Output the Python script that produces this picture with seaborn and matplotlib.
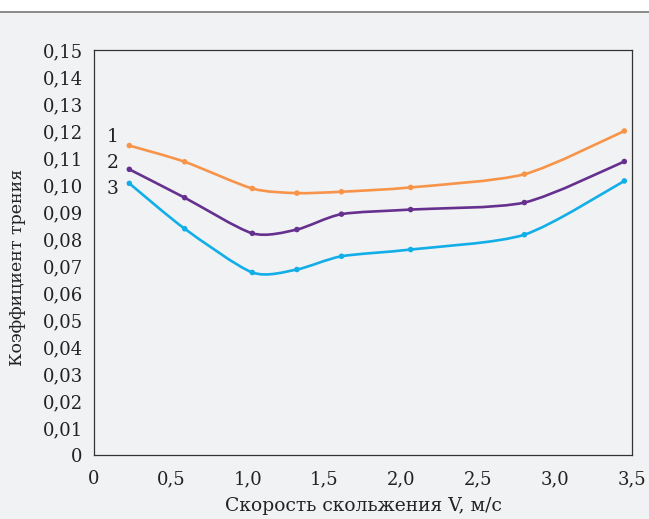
import numpy as np
import pandas as pd
import matplotlib
matplotlib.use("Agg")
import matplotlib.pyplot as plt
from matplotlib.path import Path
from matplotlib.patches import PathPatch
from matplotlib.ticker import FuncFormatter, MultipleLocator
import seaborn as sns

# ---- data ----
speed = [0.23, 0.59, 1.03, 1.32, 1.61, 2.06, 2.80, 3.45]
friction_1 = [0.1146, 0.1086, 0.0987, 0.0970, 0.0975, 0.0991, 0.1040, 0.1200]
friction_2 = [0.1058, 0.0953, 0.0821, 0.0835, 0.0892, 0.0909, 0.0935, 0.1087]
friction_3 = [0.1006, 0.0838, 0.0676, 0.0687, 0.0736, 0.0761, 0.0816, 0.1015]
series_labels = ["1", "2", "3"]
x_label = "Скорость скольжения V, м/с"
y_label = "Коэффициент трения"

colors = ["#f7944a", "#66308f", "#12aee8"]
bg = "#f1f2f4"

sns.set_theme(style="white")
plt.rcParams["font.family"] = ["DejaVu Serif"]

df = pd.concat([
    pd.DataFrame({"V": speed, "mu": vals, "s": lab})
    for vals, lab in zip([friction_1, friction_2, friction_3], series_labels)
])

fig = plt.figure(figsize=(6.49, 5.19), dpi=100, facecolor=bg)
ax = fig.add_axes([0.1448, 0.1233, 0.9738 - 0.1448, 0.9037 - 0.1233])
ax.set_facecolor(bg)

# smooth curves through the points (cardinal spline drawn as cubic Bezier)
def smooth_path(xs, ys, k=1 / 8.0):
    P = np.column_stack([xs, ys])
    n = len(P)
    verts = [P[0]]
    codes = [Path.MOVETO]
    for i in range(n - 1):
        p0 = P[i - 1] if i > 0 else P[i]
        p1 = P[i]
        p2 = P[i + 1]
        p3 = P[i + 2] if i + 2 < n else P[i + 1]
        c1 = p1 + (p2 - p0) * k
        c2 = p2 - (p3 - p1) * k
        verts += [c1, c2, p2]
        codes += [Path.CURVE4] * 3
    return Path(verts, codes)

for vals, c in zip([friction_1, friction_2, friction_3], colors):
    ax.add_patch(PathPatch(smooth_path(speed, vals), facecolor="none",
                           edgecolor=c, lw=1.9, capstyle="round", zorder=2))

sns.scatterplot(data=df, x="V", y="mu", hue="s", palette=colors, s=16,
                edgecolor="none", legend=False, ax=ax, zorder=3)

ax.set_xlim(0, 3.5)
ax.set_ylim(0, 0.15)
ax.xaxis.set_major_locator(MultipleLocator(0.5))
ax.yaxis.set_major_locator(MultipleLocator(0.01))
fmt = lambda d: FuncFormatter(lambda v, p: "0" if abs(v) < 1e-9 else f"{v:.{d}f}".replace(".", ","))
ax.xaxis.set_major_formatter(fmt(1))
ax.yaxis.set_major_formatter(fmt(2))
ax.tick_params(direction="in", length=5, width=0.9, color="#333333",
               labelsize=13, labelcolor="#222222")
ax.tick_params(axis="y", pad=8)
ax.tick_params(axis="x", pad=11)
for sp in ax.spines.values():
    sp.set_visible(True)
    sp.set_color("#333333")
    sp.set_linewidth(0.9)

ax.set_xlabel(x_label, fontsize=13.5, color="#222222", va="center")
ax.xaxis.set_label_coords(0.5, -0.126)
ax.set_ylabel(y_label, fontsize=12.5, color="#222222", va="center")
ax.yaxis.set_label_coords(-0.142, 0.464)

label_y = [0.1178, 0.1083, 0.0985]
for lab, yy in zip(series_labels, label_y):
    ax.text(0.124, yy, lab, fontsize=13.5, color="#222222", ha="center", va="center")

# top band and rule
fig.patches.append(plt.Rectangle((0, 0.977), 1, 0.023, transform=fig.transFigure,
                                 facecolor="white", edgecolor="none", zorder=0))
fig.add_artist(plt.Line2D([0, 1], [0.977, 0.977], transform=fig.transFigure,
                          color="#777777", lw=1.2))

fig.savefig("out.png", dpi=100, facecolor=bg)
